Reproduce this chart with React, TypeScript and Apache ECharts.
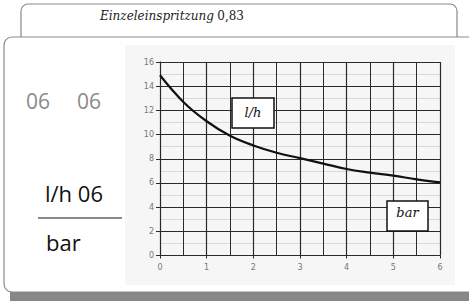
import React, { useEffect, useRef } from "react";
import * as echarts from "echarts";

const xValues = [0, 0.5, 1, 1.5, 2, 2.5, 3, 3.5, 4, 4.5, 5, 5.5, 6];
const flowValues = [14.9, 12.7, 11.1, 9.9, 9.1, 8.5, 8.05, 7.6, 7.15, 6.85, 6.6, 6.3, 6.05];
const title = "Einzeleinspritzung";
const titleValue = "0,83";
const leftTop = ["06", "06"];
const unitTop = "l/h 06";
const unitBottom = "bar";
const boxLabels = ["l/h", "bar"];

export default function App() {
  const ref = useRef<HTMLDivElement>(null);
  useEffect(() => {
    if (!ref.current) return;
    const chart = echarts.init(ref.current, null, { renderer: "svg" });
    const gridColor = "#2a2a2a";
    chart.setOption({
      animation: false,
      backgroundColor: "#ffffff",
      grid: { left: 160, top: 62, width: 280, height: 193.5, containLabel: false },
      xAxis: {
        type: "value",
        min: 0,
        max: 6,
        interval: 1,
        axisLine: { show: true, lineStyle: { color: gridColor, width: 1 } },
        axisTick: { show: true, length: 3, lineStyle: { color: gridColor } },
        axisLabel: { color: "#777", fontSize: 8, fontFamily: "DejaVu Sans", margin: 8 },
        splitLine: { show: true, lineStyle: { color: gridColor, width: 1.2 } },
        minorTick: { show: false, splitNumber: 2 },
        minorSplitLine: { show: true, lineStyle: { color: gridColor, width: 1 } },
      },
      yAxis: {
        type: "value",
        min: 0,
        max: 16,
        interval: 2,
        axisLine: { show: true, lineStyle: { color: gridColor, width: 1 } },
        axisTick: { show: true, length: 4, lineStyle: { color: gridColor } },
        axisLabel: { color: "#777", fontSize: 8, fontFamily: "DejaVu Sans", margin: 6 },
        splitLine: { show: true, lineStyle: { color: gridColor, width: 1.2 } },
        minorTick: { show: false, splitNumber: 2 },
        minorSplitLine: { show: true, lineStyle: { color: "#d8d8d8", width: 1 } },
      },
      series: [
        {
          type: "line",
          data: xValues.map((x, i) => [x, flowValues[i]]),
          smooth: 0.4,
          showSymbol: false,
          lineStyle: { color: "#111", width: 2.2 },
          z: 5,
        },
      ],
      graphic: [
        {
          type: "rect",
          z: -10,
          shape: { x: 21, y: 4, width: 436, height: 80, r: 7 },
          style: { fill: "#fff", stroke: "#8a8a8a", lineWidth: 1.2 },
        },
        {
          type: "text",
          z: -9,
          x: 100,
          y: 16,
          style: {
            rich: {
              i: { fontFamily: "DejaVu Serif", fontStyle: "italic", fontSize: 12, fill: "#222" },
              n: { fontFamily: "DejaVu Serif", fontSize: 12, fill: "#222" },
            },
            text: `{i|${title}} {n|${titleValue}}`,
            verticalAlign: "middle",
          },
        },
        {
          type: "rect",
          z: -8,
          shape: { x: 10, y: 284, width: 470, height: 20 },
          style: { fill: "#878787" },
        },
        {
          type: "rect",
          z: -7,
          shape: { x: 4, y: 37, width: 480, height: 255, r: 8 },
          style: { fill: "#fff", stroke: "#8a8a8a", lineWidth: 1.2 },
        },
        {
          type: "rect",
          z: -6,
          shape: { x: 125, y: 45, width: 330, height: 240 },
          style: { fill: "#f6f6f6" },
        },
        {
          type: "text",
          x: 26,
          y: 101,
          style: { text: leftTop[0], fontFamily: "Open Sans", fontSize: 21, fill: "#8a8a8a", verticalAlign: "middle" },
        },
        {
          type: "text",
          x: 77,
          y: 101,
          style: { text: leftTop[1], fontFamily: "Open Sans", fontSize: 21, fill: "#8a8a8a", verticalAlign: "middle" },
        },
        {
          type: "text",
          x: 45,
          y: 193,
          style: { text: unitTop, fontFamily: "Open Sans", fontSize: 22, fill: "#111", verticalAlign: "middle" },
        },
        {
          type: "line",
          shape: { x1: 38, y1: 218, x2: 122, y2: 218 },
          style: { stroke: "#8a8a8a", lineWidth: 2 },
        },
        {
          type: "text",
          x: 46,
          y: 242,
          style: { text: unitBottom, fontFamily: "Open Sans", fontSize: 22, fill: "#111", verticalAlign: "middle" },
        },
        {
          type: "rect",
          z: 10,
          shape: { x: 232, y: 98, width: 42, height: 30 },
          style: { fill: "#fff", stroke: "#111", lineWidth: 1.5 },
        },
        {
          type: "text",
          z: 11,
          x: 253,
          y: 112,
          style: {
            text: boxLabels[0],
            fontFamily: "DejaVu Serif",
            fontStyle: "italic",
            fontSize: 13,
            fill: "#111",
            align: "center",
            verticalAlign: "middle",
          },
        },
        {
          type: "rect",
          z: 10,
          shape: { x: 387, y: 201, width: 41, height: 30 },
          style: { fill: "#fff", stroke: "#111", lineWidth: 1.5 },
        },
        {
          type: "text",
          z: 11,
          x: 407.5,
          y: 212,
          style: {
            text: boxLabels[1],
            fontFamily: "DejaVu Serif",
            fontStyle: "italic",
            fontSize: 13,
            fill: "#111",
            align: "center",
            verticalAlign: "middle",
          },
        },
      ],
    });
    return () => chart.dispose();
  }, []);
  return (
    <div
      ref={ref}
      style={{ position: "fixed", left: 0, top: 0, width: 469, height: 301 }}
    />
  );
}
